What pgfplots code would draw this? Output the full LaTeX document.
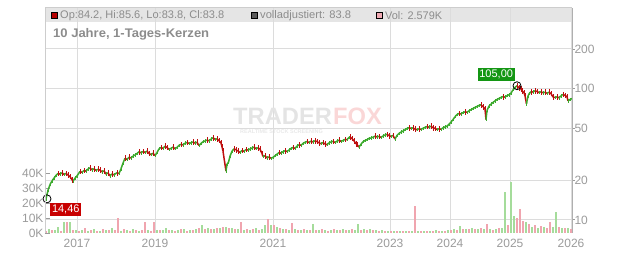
\documentclass[border=0pt]{standalone}
\usepackage{pgfplots}
\pgfplotsset{compat=1.18}
\usepackage{pgfplotstable}
\usepackage{graphicx}
\usepackage{fontspec}
\setmainfont{Liberation Sans}
\definecolor{cgreen}{RGB}{60,170,45}
\definecolor{cred}{RGB}{190,15,15}
\definecolor{vgreen}{RGB}{165,220,155}
\definecolor{vred}{RGB}{240,165,175}
\definecolor{gridc}{RGB}{220,220,220}
\definecolor{labc}{RGB}{155,155,155}
\definecolor{bandc}{RGB}{229,229,229}
\definecolor{legc}{RGB}{140,140,140}
\definecolor{boxred}{RGB}{200,0,0}
\definecolor{boxgreen}{RGB}{20,150,20}
\definecolor{wmgray}{RGB}{228,228,228}
\definecolor{wmpink}{RGB}{250,215,215}
\definecolor{wmsub}{RGB}{232,232,232}
\definecolor{frameL}{RGB}{205,205,205}
\definecolor{frameR}{RGB}{175,175,175}
\definecolor{sqred}{RGB}{180,0,0}
\definecolor{sqgray}{RGB}{90,90,90}
\definecolor{sqpink}{RGB}{240,170,180}
\pgfplotsset{colormap={rg}{color=(cgreen) color=(cred)}}

\pgfplotstableread{
x v m
46 14.46 0
48 16.8 0
50 18.6 0
52 19.8 0
54 20.8 0
56 21.8 0
58 22.6 1
60 22.3 0
62 22.8 1
64 22.1 0
66 22.6 1
68 21.9 1
70 21.4 1
72 20.2 1
73 19.7 0
75 20.8 0
77 21.6 0
80 23.4 1
82 23.0 0
84 23.8 1
86 23.5 0
88 24.4 0
90 24.9 1
92 24.0 0
94 24.5 1
96 23.8 0
98 24.3 1
100 23.9 1
102 23.2 0
104 23.6 1
106 22.3 0
108 22.8 1
110 21.6 0
112 22.4 1
114 22.0 0
117 22.9 1
119 22.5 0
121 24.5 0
123 27.0 0
125 29.5 1
127 28.8 0
129 30.0 1
131 29.6 0
133 30.6 0
135 31.2 0
137 32.0 0
139 33.0 1
141 32.4 0
143 33.2 1
145 32.6 0
147 33.4 1
149 32.0 1
151 31.4 0
153 32.2 1
155 30.8 0
157 32.5 0
159 34.8 0
161 35.6 1
163 35.0 0
165 36.4 1
167 35.6 1
169 34.4 0
171 35.0 0
173 35.8 1
175 34.8 0
177 35.6 0
179 37.0 0
181 37.6 1
183 37.2 0
185 38.4 0
187 38.8 1
189 38.2 0
191 38.6 0
193 39.2 1
195 38.4 0
197 39.0 1
199 36.8 0
201 38.2 0
203 39.4 0
205 39.8 0
207 40.6 1
209 40.0 0
211 41.2 0
213 42.2 1
215 41.0 0
217 41.4 1
219 40.2 1
221 38.5 1
222 36.0 1
223 33.3 1
224.5 28.0 1
226 23.5 0
227 26.5 0
228.5 27.5 0
230 30.5 0
232 33.3 0
234 34.8 1
236 34.2 1
238 33.4 1
240 32.6 0
242 33.8 1
244 33.2 0
246 34.4 1
248 34.0 0
250 34.6 0
252 35.2 0
254 35.8 1
256 34.8 0
258 35.4 1
260 34.6 1
262 32.0 1
263 30.4 0
265 30.8 1
267 29.6 0
269 30.2 1
271 29.4 0
273 29.9 0
275 30.8 0
277 31.6 0
279 32.6 1
281 32.2 0
283 33.0 0
285 33.6 1
287 33.2 0
289 34.0 0
291 35.0 0
293 35.6 1
295 35.0 0
297 36.4 0
299 37.4 1
301 37.0 0
303 38.2 0
305 39.0 0
307 39.5 1
309 38.8 0
311 39.8 1
313 39.2 0
315 40.0 1
317 39.5 1
319 38.6 1
321 38.0 0
323 38.8 1
325 37.8 1
327 37.4 0
329 38.6 0
331 39.2 0
333 39.6 1
335 38.8 0
337 39.8 0
339 40.4 1
341 39.6 0
343 40.2 0
345 41.0 1
347 40.8 0
349 42.4 0
350 43.0 1
352 41.6 1
354 40.0 1
356 38.0 1
357 37.5 1
359 35.8 0
361 37.6 0
363 39.4 0
365 40.2 0
367 40.8 0
369 41.8 0
371 42.0 0
373 42.6 0
375 43.4 1
377 42.8 0
379 43.2 1
381 42.4 0
383 43.6 0
385 44.2 0
387 44.8 1
389 43.8 1
391 43.2 0
393 44.0 1
395 41.2 0
397 44.0 0
399 45.6 0
401 46.6 0
403 47.4 0
405 48.6 0
407 49.6 0
409 50.4 1
411 49.6 0
413 50.2 1
415 49.0 1
417 48.6 0
419 49.4 1
421 48.8 0
423 49.8 0
425 50.6 0
427 51.4 1
429 50.8 0
431 51.6 1
433 50.4 1
435 49.6 1
437 48.8 0
439 49.4 1
441 49.0 0
443 50.2 0
445 51.0 0
447 51.6 0
449 53.4 0
451 55.5 0
453 58.0 0
455 61.0 0
457 63.4 0
459 64.6 1
461 64.0 0
463 65.6 0
465 66.4 1
467 66.0 0
469 67.6 0
471 69.0 0
473 70.4 0
475 71.8 0
477 73.0 0
479 74.4 0
481 75.2 1
483 72.8 1
485 70.0 1
486 58.0 0
487 68.0 0
489 73.6 0
491 76.0 0
493 78.4 0
495 80.6 0
497 82.4 0
499 84.0 0
501 85.6 0
503 86.8 1
505 86.0 0
507 88.2 0
509 89.6 0
511 92.0 0
513 98.0 0
515 102.0 0
517 105.0 1
519 101.5 1
521 99.0 1
522 96.0 1
524 93.0 1
525 88.0 1
526.5 76.5 0
528 88.0 0
529.5 92.0 0
531 94.5 1
533 94.0 0
535 96.2 1
537 95.0 1
539 93.0 0
541 94.4 1
543 92.8 0
545 93.6 1
547 92.0 0
549 93.8 1
551 91.6 1
553 86.0 1
555 85.4 0
557 86.4 1
559 85.0 0
561 88.0 0
563 90.2 1
565 88.6 1
567 86.6 1
568 80.5 0
570 82.5 0
572 83.8 0
}\pricedata

\pgfplotstableread{
x g r
46 0 1.5
49 2.5 0
52 0 1.8
55 2.0 0
58 4.0 0
61 0 1.2
64 7.5 0
67 0 7.5
70 7.0 0
73 0 2.0
76 2.2 0
79 0 1.5
82 1.8 0
85 0 3.0
88 1.5 0
91 0 2.2
94 2.8 0
97 0 1.4
100 1.6 0
103 0 2.5
106 2.0 0
109 0 1.8
112 3.2 0
115 0 2.0
118 0 10.0
121 1.5 0
124 0 2.6
127 2.0 0
130 0 1.5
133 2.4 0
136 0 1.8
139 1.6 0
142 0 2.3
145 0 7.0
148 2.0 0
151 0 1.6
154 0 7.5
157 1.8 0
160 0 2.2
163 2.0 0
166 3.5 0
169 0 1.8
172 2.2 0
175 0 1.5
178 1.8 0
181 0 2.6
184 2.4 0
187 0 1.6
190 1.8 0
193 0 2.0
196 2.5 0
199 0 3.0
202 5.3 0
205 0 2.4
208 3.0 0
211 0 2.6
214 2.8 0
217 0 3.2
220 3.5 0
223 0 4.0
226 4.2 0
229 0 3.5
232 3.0 0
235 0 2.5
238 2.6 0
241 0 7.0
244 2.2 0
247 0 2.8
250 2.0 0
253 0 2.4
256 3.0 0
259 0 2.2
262 2.8 0
265 5.0 0
268 0 9.3
271 5.0 0
274 0 5.0
277 4.0 0
280 0 3.0
283 2.4 0
286 0 2.8
289 2.0 0
292 0 6.7
295 2.5 0
298 0 2.0
301 1.8 0
304 0 2.4
307 2.2 0
310 0 1.8
313 6.0 0
316 0 2.0
319 1.8 0
322 0 2.4
325 2.0 0
328 0 1.6
331 2.2 0
334 0 2.6
337 1.8 0
340 0 2.0
343 2.4 0
346 0 1.8
349 2.0 0
352 0 2.4
355 1.8 0
358 6.0 0
361 0 2.2
364 2.4 0
367 0 1.8
370 2.6 0
373 0 2.0
376 1.8 0
379 0 1.6
382 2.0 0
385 0 1.4
388 1.6 0
391 0 1.2
394 1.4 0
397 0 1.2
400 1.0 0
403 0 1.4
406 1.2 0
409 0 1.0
412 1.4 0
415 0 18.0
418 1.2 0
421 0 1.0
424 1.4 0
427 0 1.6
430 1.2 0
433 0 1.4
436 1.8 0
439 0 1.2
442 1.4 0
445 0 1.6
448 1.8 0
451 0 2.0
454 2.4 0
457 0 2.2
460 4.5 0
463 0 2.6
466 2.8 0
469 0 2.4
472 3.0 0
475 0 2.6
478 2.4 0
481 0 3.2
484 2.6 0
487 0 6.0
490 2.4 0
493 0 2.0
496 2.6 0
499 0 3.0
502 3.6 0
505 27.0 0
508 0 5.0
511 34.0 0
514 11.0 0
517 0 10.0
520 0 16.0
523 0 8.0
526 7.0 0
529 0 6.0
532 4.0 0
535 0 5.0
538 3.6 0
541 0 4.4
544 4.0 0
547 0 3.6
550 0 7.0
553 3.8 0
556 14.0 0
559 0 4.0
562 3.2 0
565 0 3.6
568 3.0 0
571 0 2.4
}\voldata

\begin{document}
\begin{tikzpicture}[x=1pt,y=1pt]
\useasboundingbox (-45,-20) rectangle (587,233);
% legend band
\fill[bandc] (0,211) rectangle (527,225);

% price axis: grid and ticks
\begin{axis}[
  at={(0,0)}, anchor=south west, scale only axis,
  width=527pt, height=225pt,
  xmin=45, xmax=572, ymode=log, ymin=7.95, ymax=410,
  axis line style={draw=none},
  xtick={77,155,273,390,450,510,571},
  xticklabels={2017,2019,2021,2023,2024,2025,2026},
  ytick={10,20,50,100,200},
  yticklabels={10,20,50,100,200},
  yminorticks=false,
  ytick pos=right, yticklabel pos=right,
  xtick style={draw=none},
  ytick style={draw=labc, line width=0.8pt},
  tick align=outside, major tick length=2.5pt,
  grid=major, grid style={gridc, line width=1pt},
  ticklabel style={font=\fontsize{12}{14}\selectfont, text=labc},
  yticklabel style={xshift=-3.5pt},
  /pgf/number format/assume math mode=true,
]
\addplot[draw=none] coordinates {(100,50)};
\end{axis}

% watermark
\node[anchor=base west, inner sep=0pt, font=\bfseries\fontsize{23.7}{26}\selectfont, text=wmgray] at (188,108) {TRADER};
\node[anchor=base west, inner sep=0pt, font=\bfseries\fontsize{23.7}{26}\selectfont, text=wmpink] at (288,108) {FOX};
\node[anchor=base west, inner sep=0pt, font=\bfseries\fontsize{5.5}{6}\selectfont, text=wmsub] at (195,99) {REALTIME STOCK SCREENING};

% volume axis
\begin{axis}[
  at={(0,0)}, anchor=south west, scale only axis,
  width=527pt, height=225pt,
  xmin=45, xmax=572, ymin=0, ymax=150,
  axis line style={draw=none},
  xtick=\empty,
  ytick={0,10,20,30,40},
  yticklabels={0K,10K,20K,30K,40K},
  ytick pos=left,
  tick align=inside, major tick length=5pt,
  ytick style={draw=labc, line width=0.8pt},
  yticklabel style={font=\fontsize{12}{14}\selectfont, text=labc, xshift=2pt},
]
\addplot[ycomb, draw=vgreen, line width=1.1pt, mark=none] table[x=x, y=g] {\voldata};
\addplot[ycomb, draw=vred, line width=1.1pt, mark=none] table[x=x, y=r] {\voldata};
\end{axis}

% price line axis
\begin{axis}[
  at={(0,0)}, anchor=south west, scale only axis,
  width=527pt, height=225pt,
  xmin=45, xmax=572, ymode=log, ymin=7.95, ymax=410,
  hide axis, clip=false,
  point meta min=0, point meta max=1,
]
\addplot[mesh, shader=flat corner, colormap name=rg, line width=1.5pt, point meta=explicit]
  table[x=x, y=v, meta=m] {\pricedata};
% candle wicks
\addplot[draw=none, mark=none, forget plot,
  restrict expr to domain={\thisrow{m}}{0.5:1.5},
  error bars/.cd, y dir=both, y explicit relative, error mark=none,
  error bar style={draw=cred, solid, line width=1pt}]
  table[x=x, y=v, y error expr=0.05] {\pricedata};
\addplot[draw=none, mark=none, forget plot,
  restrict expr to domain={\thisrow{m}}{-0.5:0.5},
  error bars/.cd, y dir=both, y explicit relative, error mark=none,
  error bar style={draw=cgreen, solid, line width=1pt}]
  table[x=x, y=v, y error expr=0.03] {\pricedata};
\draw[black, line width=0.8pt] (axis cs:47,14.46) circle[radius=4pt];
\draw[black, line width=0.8pt] (axis cs:517,105) circle[radius=4pt];
\node[anchor=north west, fill=boxred, text=white, inner xsep=1.8pt, inner ysep=0pt,
      minimum height=13.5pt, font=\fontsize{11}{12}\selectfont, xshift=3pt, yshift=-3.6pt]
  at (axis cs:47,14.46) {14,46};
\node[anchor=south east, fill=boxgreen, text=white, inner xsep=1.8pt, inner ysep=0pt,
      minimum height=13pt, font=\fontsize{11}{12}\selectfont, xshift=-2pt, yshift=4.5pt]
  at (axis cs:517,105) {105,00};
\end{axis}

% frame
\draw[frameL, line width=1pt] (0,0) -- (0,225) -- (527,225);
\draw[frameR, line width=1pt] (527,225) -- (527,0);

% legend
\fill[sqred, draw=black, line width=0.8pt] (6,214.5) rectangle (12,220.5);
\node[anchor=west, inner sep=0pt, font=\fontsize{11}{12}\selectfont, text=legc] at (15,217.5) {\resizebox{164pt}{\height}{Op:84.2, Hi:85.6, Lo:83.8, Cl:83.8}};
\fill[sqgray, draw=black, line width=0.8pt] (206,214.5) rectangle (212,220.5);
\node[anchor=west, inner sep=0pt, font=\fontsize{11}{12}\selectfont, text=legc] at (215,217.5) {\resizebox{91pt}{\height}{volladjustiert: 83.8}};
\fill[sqpink, draw=black, line width=0.8pt] (331,214.5) rectangle (337,220.5);
\node[anchor=west, inner sep=0pt, font=\fontsize{11}{12}\selectfont, text=legc] at (340,217.5) {\resizebox{57pt}{\height}{Vol: 2.579K}};
% title
\node[anchor=west, inner sep=0pt, font=\bfseries\fontsize{12.5}{14}\selectfont, text=legc] at (8,199) {\resizebox{156pt}{\height}{10 Jahre, 1-Tages-Kerzen}};
\end{tikzpicture}
\end{document}
